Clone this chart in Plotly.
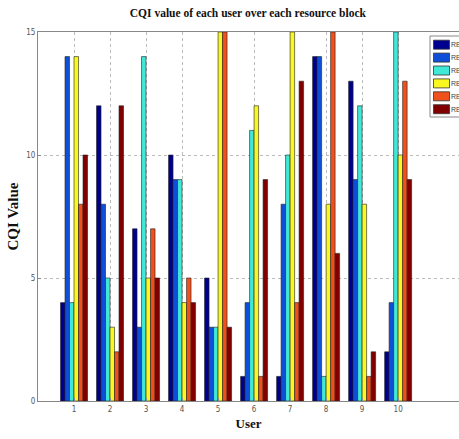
import plotly.graph_objects as go

users = [1, 2, 3, 4, 5, 6, 7, 8, 9, 10]
rb1 = [4, 12, 7, 10, 5, 1, 1, 14, 13, 2]
rb2 = [14, 8, 3, 9, 3, 4, 8, 14, 9, 4]
rb3 = [4, 5, 14, 9, 3, 11, 10, 1, 12, 15]
rb4 = [14, 3, 5, 4, 15, 12, 15, 8, 8, 10]
rb5 = [8, 2, 7, 5, 15, 1, 4, 15, 1, 13]
rb6 = [10, 12, 5, 4, 3, 9, 13, 6, 2, 9]
series_names = ["RB1", "RB2", "RB3", "RB4", "RB5", "RB6"]
colors = ["#00008f", "#0f4fd8", "#40e8d8", "#f8f820", "#f0501c", "#800000"]
y_ticks = [0, 5, 10, 15]

W, H = 459, 439
ML, MR, MT, MB = 38, 0, 32, 38
PW, PH = W - ML - MR, H - MT - MB

def px_x(p):
    return (p - ML) / PW

def px_y(p):
    return (H - MB - p) / PH

fig = go.Figure()
for name, vals, c in zip(series_names, [rb1, rb2, rb3, rb4, rb5, rb6], colors):
    fig.add_trace(go.Bar(x=users, y=vals, name=name, showlegend=False,
                         marker=dict(color=c, line=dict(color="#222222", width=0.6))))

# legend box (drawn as in the reference, partly running off the right edge)
shapes = [dict(type="rect", xref="paper", yref="paper",
               x0=px_x(430), x1=px_x(475), y0=px_y(117), y1=px_y(36),
               line=dict(color="#888888", width=1), fillcolor="white", layer="above")]
annotations = []
for i, (name, c) in enumerate(zip(series_names, colors)):
    cy = 44.7 + 12.9 * i
    shapes.append(dict(type="rect", xref="paper", yref="paper",
                       x0=px_x(433.5), x1=px_x(449.5), y0=px_y(cy + 4.5), y1=px_y(cy - 4.5),
                       line=dict(color="#333333", width=0.8), fillcolor=c, layer="above"))
    annotations.append(dict(xref="paper", yref="paper", x=px_x(449.5), y=px_y(cy),
                            xanchor="left", yanchor="middle", showarrow=False, text=name,
                            borderpad=0,
                            font=dict(family="Liberation Sans Narrow, Arial Narrow, sans-serif",
                                      size=7, color="#444444")))

axis_common = dict(showline=True, linecolor="#888888", linewidth=1,
                   ticks="inside", ticklen=3, tickcolor="#888888",
                   gridcolor="#bbbbbb", griddash="dot", gridwidth=1,
                   zeroline=False,
                   tickfont=dict(family="Liberation Sans Narrow, Arial Narrow, DejaVu Sans Condensed, sans-serif",
                                 size=8, color="#555555"))

fig.update_layout(
    width=W, height=H,
    margin=dict(l=ML, r=MR, t=MT, b=MB, autoexpand=False),
    paper_bgcolor="white", plot_bgcolor="white",
    barmode="group", bargap=0.25, bargroupgap=0,
    title=dict(text="<b>CQI value of each user over each resource block</b>",
               x=0.54, xanchor="center", y=0.970, yanchor="middle",
               font=dict(family="Liberation Serif, Times New Roman, serif", size=11.5, color="#111111")),
    xaxis=dict(range=[0, 11.69], tickvals=users, showgrid=True, mirror=True,
               title=dict(text="<b>User</b>", standoff=6,
                          font=dict(family="Liberation Serif, Times New Roman, serif", size=13, color="#111111")),
               **axis_common),
    yaxis=dict(range=[0, 15], tickvals=y_ticks, showgrid=True, mirror=False,
               title=dict(text="<b>CQI Value</b>", standoff=3,
                          font=dict(family="Liberation Serif, Times New Roman, serif", size=15, color="#111111")),
               **axis_common),
    shapes=shapes,
    annotations=annotations,
)

fig.write_html("out.html")
